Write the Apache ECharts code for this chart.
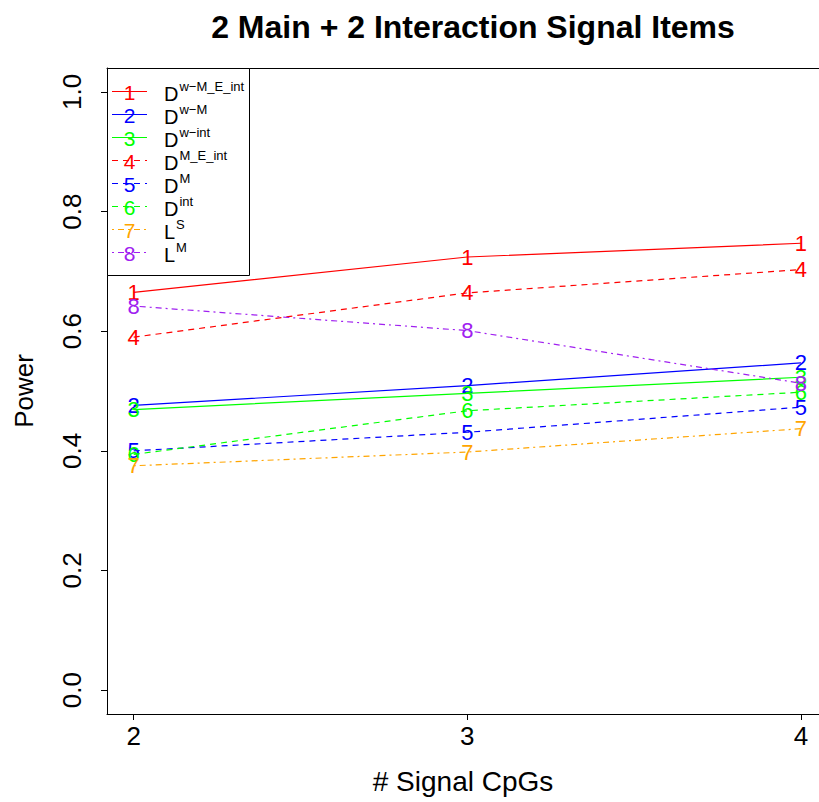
<!DOCTYPE html>
<html>
<head>
<meta charset="utf-8">
<script src="https://cdn.jsdelivr.net/npm/echarts@6/dist/echarts.min.js"></script>
<style>
html,body{margin:0;padding:0;background:#fff;}
#chart{width:819px;height:802px;}
</style>
</head>
<body>
<div id="chart"></div>
<script>
// ---- data ----
var xValues = [2, 3, 4];
var s1 = [0.665, 0.724, 0.747];
var s2 = [0.476, 0.509, 0.547];
var s3 = [0.469, 0.496, 0.523];
var s4 = [0.590, 0.664, 0.703];
var s5 = [0.400, 0.431, 0.473];
var s6 = [0.394, 0.467, 0.498];
var s7 = [0.375, 0.398, 0.437];
var s8 = [0.642, 0.601, 0.513];
var seriesValues = [s1, s2, s3, s4, s5, s6, s7, s8];
var seriesCodes = ['1', '2', '3', '4', '5', '6', '7', '8'];
var seriesBase = ['D', 'D', 'D', 'D', 'D', 'D', 'L', 'L'];
var seriesSup = ['w\u2212M_E_int', 'w\u2212M', 'w\u2212int', 'M_E_int', 'M', 'int', 'S', 'M'];
var yTicks = [0, 0.2, 0.4, 0.6, 0.8, 1.0];
var xTicks = [2, 3, 4];
var titleText = '2 Main + 2 Interaction Signal Items';
var xName = '# Signal CpGs';
var yName = 'Power';

// ---- styles ----
var colors = ['#FF0000', '#0000FF', '#00FF00', '#FF0000', '#0000FF', '#00FF00', '#FFA500', '#A020F0'];
var dashSolid = 'solid', dashDash = [6, 5], dashDotDash = [2, 4, 6, 4];
var lineTypes = [dashSolid, dashSolid, dashSolid, dashDash, dashDash, dashDash, dashDotDash, dashDotDash];
var FONT = '"Liberation Sans", Arial, Helvetica, sans-serif';

var chart = echarts.init(document.getElementById('chart'), null, {renderer: 'svg'});

var series = seriesValues.map(function (vals, i) {
  return {
    name: seriesBase[i] + seriesSup[i],
    type: 'line',
    data: xValues.map(function (x, j) { return [x, vals[j]]; }),
    symbol: 'circle',
    symbolSize: 2,
    itemStyle: {color: 'rgba(0,0,0,0)', borderWidth: 0},
    lineStyle: {color: colors[i], width: 1.2, type: lineTypes[i]},
    label: {
      show: true, position: 'inside', formatter: seriesCodes[i],
      color: colors[i], fontSize: 22, fontFamily: FONT,
      textBorderWidth: 0
    },
    labelLayout: {hideOverlap: false},
    emphasis: {disabled: true},
    z: 2 + i
  };
});

// legend drawn with graphics
var legLeft = 107, legTop = 68, legRight = 249, legBottom = 275;
var rowY0 = 91, rowStep = 23;
var legendElems = [{
  type: 'rect', shape: {x: legLeft + 0.5, y: legTop + 0.5, width: legRight - legLeft, height: legBottom - legTop},
  style: {fill: '#fff', stroke: '#000', lineWidth: 1}, z: 10
}];
seriesCodes.forEach(function (c, i) {
  var y = rowY0 + i * rowStep;
  legendElems.push({
    type: 'line', shape: {x1: 112, y1: y + 0.5, x2: 147, y2: y + 0.5},
    style: {stroke: colors[i], lineWidth: 1.2, lineDash: lineTypes[i] === 'solid' ? null : lineTypes[i]}, z: 11
  });
  legendElems.push({
    type: 'text', x: 129.5, y: y + 1,
    style: {text: c, fill: colors[i], font: '21px ' + FONT, align: 'center', verticalAlign: 'middle'}, z: 12
  });
  legendElems.push({
    type: 'text', x: 164, y: y + 3,
    style: {
      text: '{b|' + seriesBase[i] + '}{s|' + seriesSup[i] + '}',
      align: 'left', verticalAlign: 'middle',
      rich: {
        b: {fontSize: 20, fontFamily: FONT, fill: '#000', color: '#000'},
        s: {fontSize: 13, fontFamily: FONT, fill: '#000', color: '#000', padding: [0, 0, 16, 1]}
      }
    }, z: 12
  });
});

chart.setOption({
  animation: false,
  backgroundColor: '#fff',
  title: {
    text: titleText, left: 468, top: 6, textAlign: 'center',
    textStyle: {fontSize: 32, fontWeight: 'bold', color: '#000', fontFamily: FONT}
  },
  grid: {left: 107, top: 68, right: 0, bottom: 88, show: false, containLabel: false},
  xAxis: [{
    type: 'value', min: 1.92, max: 4.054,
    name: xName, nameLocation: 'middle', nameGap: 53,
    nameTextStyle: {fontSize: 28, color: '#000', fontFamily: FONT},
    axisLine: {show: true, onZero: false, lineStyle: {color: '#000', width: 1}},
    axisTick: {show: true, inside: false, length: 6, lineStyle: {color: '#000'}, customValues: xTicks},
    axisLabel: {show: true, margin: 9, fontSize: 26, color: '#000', fontFamily: FONT, customValues: xTicks, formatter: function (v) { return String(v); }},
    splitLine: {show: false}
  }, {
    type: 'value', min: 1.92, max: 4.054, position: 'top',
    axisLine: {show: true, onZero: false, lineStyle: {color: '#000', width: 1}},
    axisTick: {show: false}, axisLabel: {show: false}, splitLine: {show: false}
  }],
  yAxis: {
    type: 'value', min: -0.04, max: 1.04,
    name: yName, nameLocation: 'middle', nameGap: 70, nameRotate: 90,
    nameTextStyle: {fontSize: 26, color: '#000', fontFamily: FONT},
    axisLine: {show: true, onZero: false, lineStyle: {color: '#000', width: 1}},
    axisTick: {show: true, inside: false, length: 6, lineStyle: {color: '#000'}, customValues: yTicks},
    axisLabel: {show: true, rotate: 90, margin: 22, fontSize: 26, color: '#000', fontFamily: FONT, customValues: yTicks, formatter: function (v) { return v.toFixed(1); }},
    splitLine: {show: false}
  },
  tooltip: {show: false},
  series: series,
  graphic: legendElems
});
</script>
</body>
</html>
